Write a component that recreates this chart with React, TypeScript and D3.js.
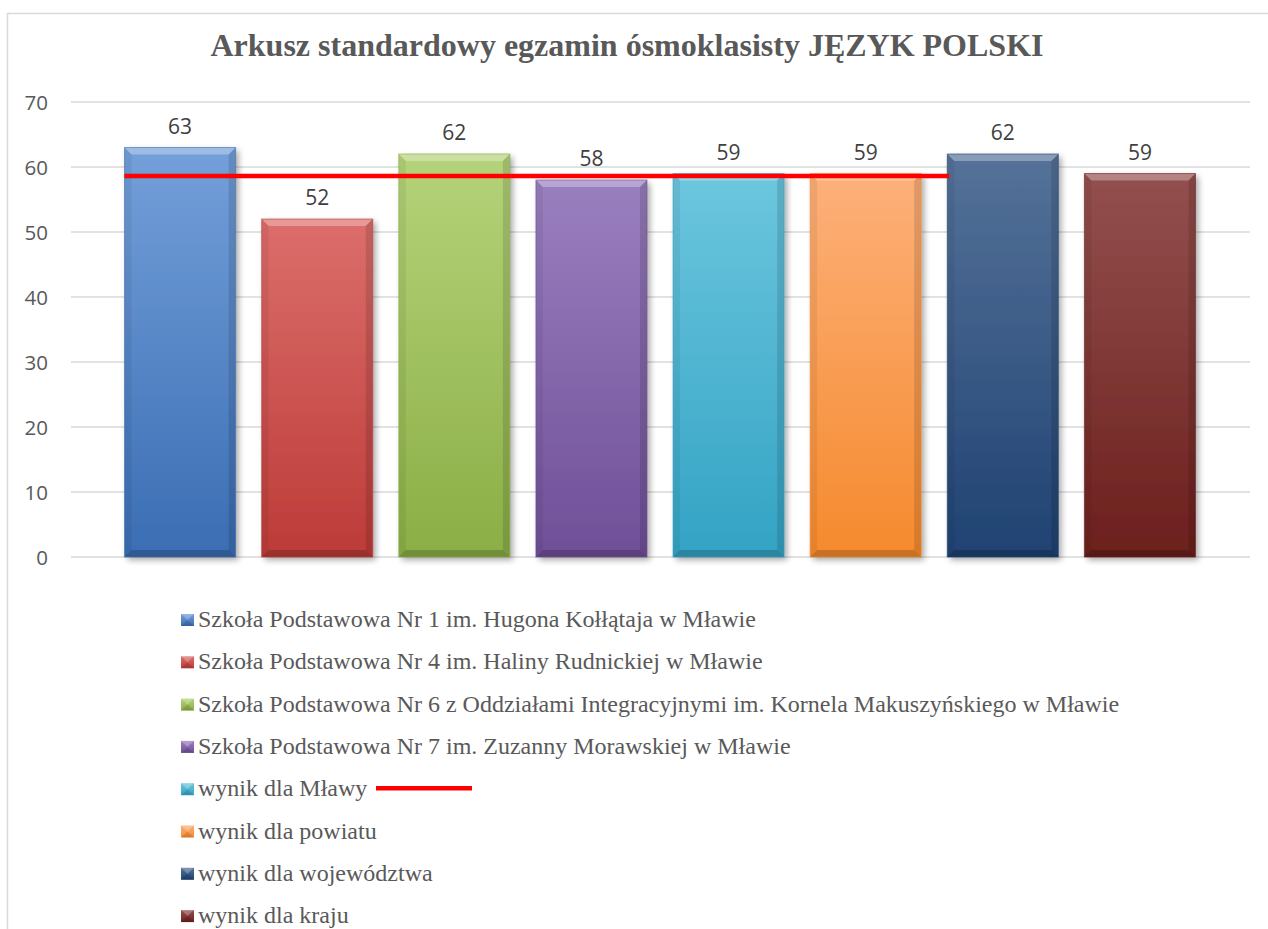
import React from "react";
import * as d3 from "d3";

const TITLE = "Arkusz standardowy egzamin ósmoklasisty JĘZYK POLSKI";
const seriesNames = [
  "Szkoła Podstawowa Nr 1 im. Hugona Kołłątaja w Mławie",
  "Szkoła Podstawowa Nr 4 im. Haliny Rudnickiej w Mławie",
  "Szkoła Podstawowa Nr 6 z Oddziałami Integracyjnymi im. Kornela Makuszyńskiego w Mławie",
  "Szkoła Podstawowa Nr 7 im. Zuzanny Morawskiej w Mławie",
  "wynik dla Mławy",
  "wynik dla powiatu",
  "wynik dla województwa",
  "wynik dla kraju",
];
const values = [63, 52, 62, 58, 59, 59, 62, 59];
const colorsTop = ["#74a0da", "#dc6e6b", "#b5d37a", "#9a7fbf", "#6cc6de", "#fdb07a", "#557299", "#93504e"];
const colorsBottom = ["#3a6db3", "#bc3b38", "#8bae45", "#6f4f98", "#33a3c4", "#f58a2d", "#1f4272", "#6c1f1d"];
const yTicks = [0, 10, 20, 30, 40, 50, 60, 70];
const mlawaLineValue = 58.6;

export default function App() {
  const W = 1268, H = 929;
  const plotLeft = 71, plotRight = 1250;
  const y = d3.scaleLinear().domain([0, 70]).range([557, 102]);
  const x = d3
    .scaleBand<number>()
    .domain(d3.range(values.length))
    .range([111.5, 1208.5])
    .paddingInner(0.19)
    .paddingOuter(0.095);
  const bw = x.bandwidth();
  const bev = 7;
  const legendY0 = 620;
  const legendStep = 42.3;
  const textColor = "#595959";

  return (
    <svg
      width={W}
      height={H}
      style={{ position: "absolute", left: 0, top: 0, background: "#fff" }}
    >
      <defs>
        {values.map((_, i) => (
          <linearGradient key={i} id={`g${i}`} x1="0" y1="0" x2="0" y2="1">
            <stop offset="0%" stopColor={colorsTop[i]} />
            <stop offset="100%" stopColor={colorsBottom[i]} />
          </linearGradient>
        ))}
        <filter id="sh" x="-10%" y="-10%" width="130%" height="130%">
          <feGaussianBlur in="SourceAlpha" stdDeviation="3" />
          <feOffset dx="3" dy="3" result="o" />
          <feComponentTransfer>
            <feFuncA type="linear" slope="0.35" />
          </feComponentTransfer>
          <feMerge>
            <feMergeNode />
            <feMergeNode in="SourceGraphic" />
          </feMerge>
        </filter>
      </defs>
      <rect x={7.5} y={13.5} width={1300} height={1000} fill="#fff" stroke="#d9d9d9" strokeWidth={1.5} />
      <text
        x={627}
        y={56}
        textAnchor="middle"
        fontFamily="'Liberation Serif', 'Times New Roman', serif"
        fontWeight="bold"
        fontSize={32}
        fill={textColor}
      >
        {TITLE}
      </text>
      {yTicks.map((t) => (
        <g key={t}>
          <line x1={plotLeft} x2={plotRight} y1={y(t)} y2={y(t)} stroke="#d9d9d9" strokeWidth={1.3} />
          <text
            x={48}
            y={y(t) + 7.5}
            textAnchor="end"
            fontFamily="'Open Sans', sans-serif"
            fontSize={20.5}
            fill={textColor}
          >
            {t}
          </text>
        </g>
      ))}
      {values.map((v, i) => {
        const x0 = x(i)!;
        const yt = y(v);
        const yb = y(0);
        return (
          <g key={i}>
            <rect x={x0} y={yt} width={bw} height={yb - yt} fill={`url(#g${i})`} filter="url(#sh)" />
            <polygon
              points={`${x0},${yt} ${x0 + bw},${yt} ${x0 + bw - bev},${yt + bev} ${x0 + bev},${yt + bev}`}
              fill="#fff"
              opacity={0.3}
            />
            <polygon
              points={`${x0},${yt} ${x0 + bev},${yt + bev} ${x0 + bev},${yb - bev} ${x0},${yb}`}
              fill="#000"
              opacity={0.06}
            />
            <polygon
              points={`${x0 + bw},${yt} ${x0 + bw - bev},${yt + bev} ${x0 + bw - bev},${yb - bev} ${x0 + bw},${yb}`}
              fill="#000"
              opacity={0.12}
            />
            <polygon
              points={`${x0},${yb} ${x0 + bev},${yb - bev} ${x0 + bw - bev},${yb - bev} ${x0 + bw},${yb}`}
              fill="#000"
              opacity={0.18}
            />
            <rect x={x0} y={yt} width={bw} height={yb - yt} fill="none" stroke={colorsBottom[i]} strokeOpacity={0.6} strokeWidth={1} />
            <text
              x={x0 + bw / 2}
              y={yt - 14}
              textAnchor="middle"
              fontFamily="'Open Sans', sans-serif"
              fontSize={21}
              fill="#404040"
            >
              {v}
            </text>
          </g>
        );
      })}
      <line
        x1={x(0)!}
        x2={x(6)! + 2}
        y1={y(mlawaLineValue)}
        y2={y(mlawaLineValue)}
        stroke="#ff0000"
        strokeWidth={4.5}
      />
      {seriesNames.map((name, i) => {
        const ly = legendY0 + i * legendStep;
        return (
          <g key={i}>
            <rect x={181} y={ly - 6} width={13} height={12} fill={`url(#g${i})`} />
            <polygon points={`${181},${ly - 6} ${194},${ly - 6} ${187.5},${ly}`} fill="#fff" opacity={0.25} />
            <polygon points={`${181},${ly + 6} ${194},${ly + 6} ${187.5},${ly}`} fill="#000" opacity={0.12} />
            <text
              x={198}
              y={ly + 7}
              fontFamily="'Liberation Serif', 'Times New Roman', serif"
              fontSize={24}
              fill={textColor}
            >
              {name}
            </text>
          </g>
        );
      })}
      <line
        x1={376}
        x2={472}
        y1={legendY0 + 4 * legendStep - 1}
        y2={legendY0 + 4 * legendStep - 1}
        stroke="#ff0000"
        strokeWidth={4.5}
      />
    </svg>
  );
}
